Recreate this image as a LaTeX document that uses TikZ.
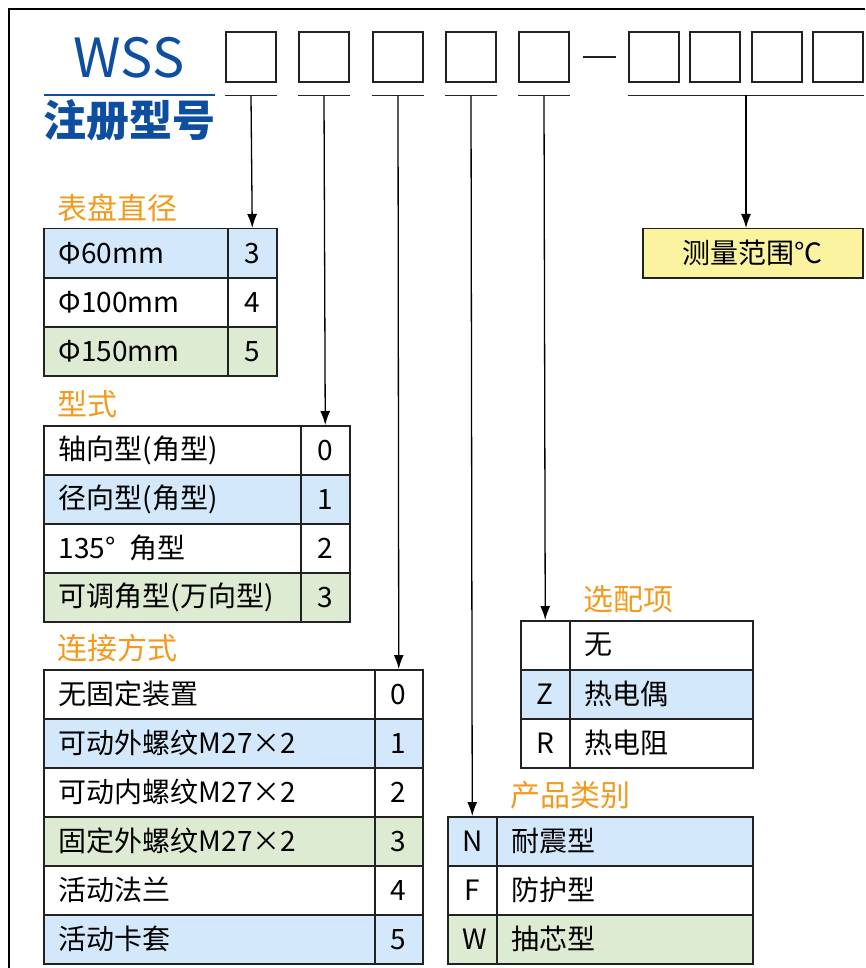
\documentclass[tikz,border=0pt]{standalone}
\usepackage{fontspec}
\setmainfont{Noto Sans CJK SC}
\usepackage{tikz}
\usetikzlibrary{arrows,arrows.meta,positioning,calc}

\definecolor{wssblue}{HTML}{0D4EA0}
\definecolor{titleorange}{HTML}{F39A1E}
\definecolor{rowblue}{HTML}{D4E8FB}
\definecolor{rowgreen}{HTML}{DDEBD2}
\definecolor{rangeyellow}{HTML}{FBF3A0}
\definecolor{rule}{HTML}{222222}

\tikzset{
  codebox/.style={draw=rule,line width=1.5,minimum width=50,minimum height=50,inner sep=0},
  cell/.style={draw=rule,line width=1.5,anchor=north west,inner xsep=15,inner ysep=0,
    minimum height=49,font=\fontsize{28}{30}\selectfont},
  txtcell/.style={cell,text width=#1pt,align=left},
  codecell/.style={cell,text width=#1pt,align=center},
  title/.style={anchor=west,inner sep=0,text=titleorange,font=\fontsize{30}{30}\selectfont},
  lead/.style={line width=1.3,-{Latex[length=14pt,width=10pt]}}
}

\begin{document}
\begin{tikzpicture}[x=1pt,y=-1pt]
\useasboundingbox (0,0) rectangle (865,968);

% Frame
\draw[line width=2] (9,968) -- (9,9) -- (865,9);

% Model name
\node[anchor=base,inner sep=0,text=wssblue,font=\fontsize{54}{54}\selectfont] (wss) at (129,78) {WSS};
\draw[wssblue,line width=1.5] (44,95) -- (215,95);
\node[anchor=base,inner sep=0,text=wssblue,font=\fontsize{43}{43}\selectfont\bfseries] (reg) at (129,137) {注册型号};

% Code boxes and underlines
\foreach \n/\x in {1/251, 2/324, 3/398, 4/471, 5/544, 6/654, 7/715, 8/777, 9/838}
    \node[codebox] (b\n) at (\x,57) {};
\foreach \n in {1,...,5} {
    \draw[rule,line width=1.5] ([yshift=-13]b\n.south west) -- ([yshift=-13]b\n.south east);
    \coordinate (u\n) at ([yshift=-13]b\n.south);
}
\draw[rule,line width=1.5] ([xshift=13]b5.east) -- ([xshift=-12]b6.west);
\draw[rule,line width=1.5] ([yshift=-13]b6.south west) -- ([yshift=-13]b9.south east);
\coordinate (u9) at (746,95);

% Dial diameter
\node[title] (dialtitle) at (57,208) {表盘直径};
\foreach \i/\txt/\code/\col in {0/Φ60mm/3/rowblue, 1/Φ100mm/4/white, 2/Φ150mm/5/rowgreen} {
    \node[txtcell=154,fill=\col] (dialt\i) at (43,{228+49*\i}) {\txt};
    \node[codecell=19,fill=\col] (dialc\i) at (227,{228+49*\i}) {\code};
}

% Form
\node[title] (formtitle) at (57,404) {型式};
\foreach \i/\txt/\code/\col in {0/轴向型(角型)/0/white, 1/径向型(角型)/1/rowblue,
        2/135°\hspace{14pt}角型/2/white, 3/可调角型(万向型)/3/rowgreen} {
    \node[txtcell=227,fill=\col] (formt\i) at (43,{425+49*\i}) {\txt};
    \node[codecell=19,fill=\col] (formc\i) at (300,{425+49*\i}) {\code};
}

% Connection
\node[title] (conntitle) at (57,648) {连接方式};
\foreach \i/\txt/\code/\col in {0/无固定装置/0/white, 1/可动外螺纹M27×2/1/rowblue,
        2/可动内螺纹M27×2/2/white, 3/固定外螺纹M27×2/3/rowgreen,
        4/活动法兰/4/white, 5/活动卡套/5/rowblue} {
    \node[txtcell=301,fill=\col] (connt\i) at (43,{669+49*\i}) {\txt};
    \node[codecell=18,fill=\col] (connc\i) at (374,{669+49*\i}) {\code};
}

% Options
\node[title] (opttitle) at (583,599) {选配项};
\foreach \i/\code/\txt/\col in {0/{}/无/white, 1/Z/热电偶/rowblue, 2/R/热电阻/white} {
    \node[codecell=19,fill=\col] (optc\i) at (520,{620+49*\i}) {\code};
    \node[txtcell=153,fill=\col] (optt\i) at (569,{620+49*\i}) {\txt};
}

% Product category
\node[title] (cattitle) at (510,795) {产品类别};
\foreach \i/\code/\txt/\col in {0/N/耐震型/rowblue, 1/F/防护型/white, 2/W/抽芯型/rowgreen} {
    \node[codecell=19,fill=\col] (catc\i) at (447,{816+49*\i}) {\code};
    \node[txtcell=226,fill=\col] (catt\i) at (496,{816+49*\i}) {\txt};
}

% Range
\node[cell,fill=rangeyellow,minimum width=220,inner xsep=0] (range) at (642,228) {测量范围℃};

% Leads
\draw[lead] (u1) -- (dialc0.north);
\draw[lead] (u2) -- (formc0.north);
\draw[lead] (u3) -- (connc0.north);
\draw[lead] (u4) -- (catc0.north);
\draw[lead] (u5) -- (optc0.north);
\draw[lead] (u9) -- (u9 |- range.north);
\end{tikzpicture}
\end{document}
